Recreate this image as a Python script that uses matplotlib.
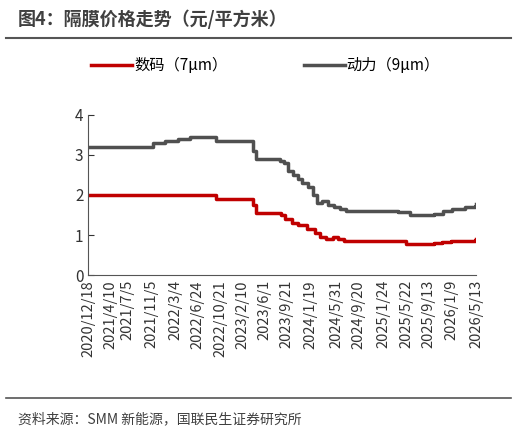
import matplotlib
matplotlib.use("Agg")
import matplotlib.pyplot as plt
import pandas as pd

plt.rcParams['font.family'] = ['Noto Sans CJK SC', 'DejaVu Sans']

# step breakpoints (date, price)
grey_dates = ["2020-12-18", "2021-11-13", "2022-01-13", "2022-03-20", "2022-05-20", "2022-09-29",
              "2023-04-05", "2023-04-20", "2023-08-20", "2023-09-10", "2023-10-01", "2023-10-25",
              "2023-11-20", "2023-12-10", "2024-01-10", "2024-02-05", "2024-02-25", "2024-03-20",
              "2024-04-20", "2024-05-20", "2024-06-20", "2024-07-20", "2025-04-10", "2025-06-10",
              "2025-10-10", "2025-11-25", "2026-01-10", "2026-03-15", "2026-05-05", "2026-05-13"]
grey_vals = [3.2, 3.3, 3.35, 3.4, 3.45, 3.35,
             3.1, 2.9, 2.85, 2.8, 2.6, 2.5,
             2.4, 2.3, 2.2, 2.0, 1.8, 1.85,
             1.75, 1.7, 1.65, 1.6, 1.58, 1.5,
             1.52, 1.6, 1.65, 1.7, 1.72, 1.78]
red_dates = ["2020-12-18", "2022-09-29", "2023-04-05", "2023-04-20", "2023-08-25", "2023-09-15",
             "2023-10-20", "2023-11-20", "2024-01-05", "2024-02-15", "2024-03-10", "2024-04-10",
             "2024-05-15", "2024-06-10", "2024-07-10", "2025-05-20", "2025-10-10", "2025-11-20",
             "2026-01-05", "2026-05-05", "2026-05-13"]
red_vals = [2.0, 1.9, 1.75, 1.55, 1.5, 1.4,
            1.3, 1.25, 1.15, 1.05, 0.95, 0.9,
            0.95, 0.9, 0.85, 0.78, 0.8, 0.83,
            0.85, 0.87, 0.9]
tick_labels = ["2020/12/18", "2021/4/10", "2021/7/5", "2021/11/5", "2022/3/4", "2022/6/24",
               "2022/10/21", "2023/2/10", "2023/6/1", "2023/9/21", "2024/1/19", "2024/5/31",
               "2024/9/20", "2025/1/24", "2025/5/22", "2025/9/13", "2026/1/9", "2026/5/13"]

fig = plt.figure(figsize=(5.16, 4.34), dpi=100)
ax = fig.add_axes([0.171, 0.366, 0.752, 0.37])

ax.plot(pd.to_datetime(red_dates), red_vals, drawstyle="steps-post", color="#C00000", lw=2.5, label="数码（7μm）")
ax.plot(pd.to_datetime(grey_dates), grey_vals, drawstyle="steps-post", color="#505050", lw=2.5, label="动力（9μm）")

ax.set_ylim(0, 4)
ax.set_yticks([0, 1, 2, 3, 4])
ax.set_xlim(pd.Timestamp("2020-12-18"), pd.Timestamp("2026-05-13"))
ticks = pd.to_datetime(tick_labels, format="%Y/%m/%d")
ax.set_xticks(ticks)
ax.set_xticklabels(tick_labels, rotation=90, fontsize=10.5, color="#333333")
ax.tick_params(axis="y", labelsize=11, colors="#333333", direction="in", length=4)
ax.tick_params(axis="x", direction="in", length=0)
for s in ["top", "right"]:
    ax.spines[s].set_visible(False)
for s in ["left", "bottom"]:
    ax.spines[s].set_color("#555555")

fig.legend(loc="upper left", bbox_to_anchor=(0.15, 0.9), ncol=2, frameon=False, fontsize=11,
           handlelength=2.7, handletextpad=0.1, columnspacing=5)

fig.text(0.035, 0.955, "图4：隔膜价格走势（元/平方米）", fontsize=13, fontweight="bold", color="#404040", va="center")
fig.add_artist(plt.Line2D([0.012, 0.99], [0.912, 0.912], color="#555555", lw=1.5))
fig.add_artist(plt.Line2D([0.012, 0.99], [0.083, 0.083], color="#555555", lw=1.2))
fig.text(0.035, 0.035, "资料来源：SMM 新能源，国联民生证券研究所", fontsize=10, color="#404040", va="center")

fig.savefig("out.png", dpi=100)
